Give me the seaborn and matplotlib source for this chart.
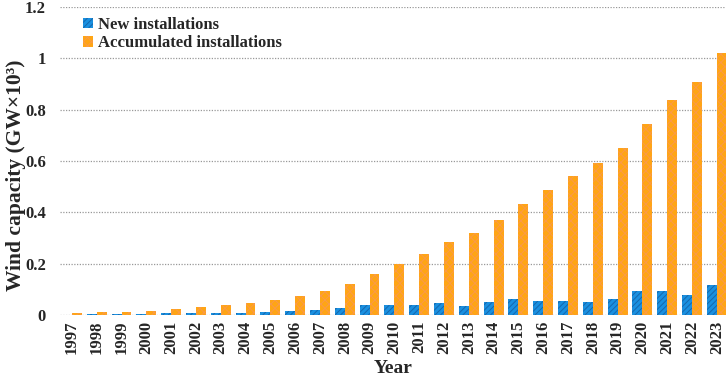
import pandas as pd
import matplotlib
matplotlib.use("Agg")
import matplotlib.pyplot as plt
from matplotlib.ticker import FuncFormatter
from matplotlib.patches import Patch
import seaborn as sns

years = [str(y) for y in range(1997, 2024)]
new_installations = [0.0015, 0.0025, 0.0034, 0.0038, 0.0065, 0.0073, 0.0081, 0.0082,
                     0.0115, 0.0147, 0.0203, 0.0269, 0.0385, 0.0391, 0.0406, 0.045,
                     0.036, 0.052, 0.0636, 0.0546, 0.0526, 0.0513, 0.0604, 0.095,
                     0.0936, 0.0776, 0.117]
accumulated = [0.0076, 0.0102, 0.0136, 0.0174, 0.0239, 0.0311, 0.0394, 0.0476,
               0.0591, 0.074, 0.0939, 0.1207, 0.159, 0.198, 0.238, 0.283,
               0.319, 0.370, 0.433, 0.487, 0.540, 0.591, 0.651, 0.743,
               0.837, 0.906, 1.021]
series_names = ["New installations", "Accumulated installations"]


def main():
    df = pd.DataFrame({"Year": years, series_names[0]: new_installations,
                       series_names[1]: accumulated})
    long_df = df.melt(id_vars="Year", var_name="Series", value_name="Capacity")

    sns.set_style("white")
    plt.rcParams['font.family'] = ['Liberation Serif', 'DejaVu Serif']
    plt.rcParams['font.weight'] = 'bold'
    plt.rcParams['hatch.linewidth'] = 0.7

    fig, ax = plt.subplots(figsize=(7.26, 3.78), dpi=100)
    fig.subplots_adjust(left=60 / 726, right=1.0, top=1 - 7 / 378, bottom=1 - 315 / 378)

    face = {series_names[0]: "#1a90e0", series_names[1]: "#ffa514"}
    hatch_col = {series_names[0]: "#1667ad", series_names[1]: "#fa9a48"}
    hatches = {series_names[0]: "//////", series_names[1]: "xxxx"}

    sns.barplot(data=long_df, x="Year", y="Capacity", hue="Series",
                palette=face, saturation=1, width=0.8, gap=0, legend=False, ax=ax)

    for cont, name in zip(ax.containers, series_names):
        for bar in cont:
            bar.set_hatch(hatches[name])
            bar.set_edgecolor(hatch_col[name])
            bar.set_linewidth(0)

    ax.set_ylim(0, 1.2)
    ax.set_xlim(-0.48, 26.37)
    ax.set_yticks([0, 0.2, 0.4, 0.6, 0.8, 1.0, 1.2])
    ax.yaxis.set_major_formatter(FuncFormatter(lambda v, p: f"{v:g}"))
    ax.grid(axis="y", linestyle=(0, (1, 1.2)), color="#999999", linewidth=0.9)
    ax.set_axisbelow(True)
    for s in ax.spines.values():
        s.set_visible(False)
    ax.tick_params(axis="both", length=0, labelsize=12)
    ax.tick_params(axis="y", pad=10)
    ax.tick_params(axis="x", pad=4)
    plt.setp(ax.get_xticklabels(), rotation=90, fontweight="bold")
    plt.setp(ax.get_yticklabels(), fontweight="bold")

    ax.set_xlabel("Year", fontsize=14, fontweight="bold", labelpad=4)
    ax.set_ylabel("Wind capacity (GW×10³)", fontsize=15.5, fontweight="bold")
    ax.yaxis.set_label_coords(-0.051, 0.455)

    handles = [Patch(facecolor=face[n], edgecolor=hatch_col[n], hatch=hatches[n],
                     linewidth=0, label=n) for n in series_names]
    ax.legend(handles=handles, loc="upper left", bbox_to_anchor=(0.02, 1.0),
              frameon=False, handlelength=0.6, handleheight=0.6,
              handletextpad=0.3, labelspacing=0.15, borderaxespad=0.2,
              prop={"weight": "bold", "size": 12})

    fig.savefig("out.png", dpi=100)
    plt.close(fig)


if __name__ == "__main__":
    main()
